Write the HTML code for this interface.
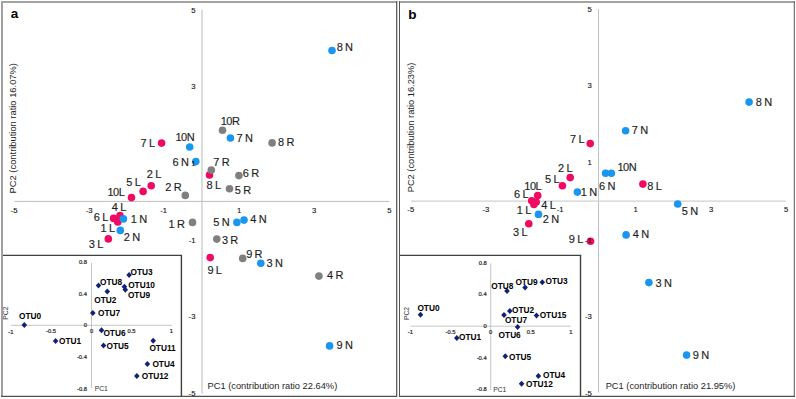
<!DOCTYPE html>
<html><head><meta charset="utf-8"><style>
html,body{margin:0;padding:0;background:#fff;}
body{width:796px;height:399px;overflow:hidden;}
svg{display:block;font-family:"Liberation Sans", sans-serif;}
</style></head><body>
<svg width="796" height="399" viewBox="0 0 796 399">
<rect x="0" y="0" width="796" height="399" fill="#fff"/>
<rect x="1" y="1" width="397" height="396" fill="#fff"/>
<line x1="1.00" y1="2.00" x2="397.80" y2="2.00" stroke="#858585" stroke-width="1.6"/>
<line x1="399.00" y1="2.00" x2="795.00" y2="2.00" stroke="#858585" stroke-width="1.6"/>
<line x1="396.50" y1="1.20" x2="396.50" y2="396.90" stroke="#5a5a5a" stroke-width="1"/>
<line x1="397.40" y1="1.20" x2="397.40" y2="396.90" stroke="#b8b8b8" stroke-width="0.8"/>
<line x1="794.30" y1="1.20" x2="794.30" y2="396.90" stroke="#555555" stroke-width="1"/>
<line x1="202.00" y1="9.80" x2="202.00" y2="393.70" stroke="#d0d0d0" stroke-width="1.5"/>
<line x1="14.40" y1="201.40" x2="389.60" y2="201.40" stroke="#bdbdbd" stroke-width="1"/>
<line x1="598.50" y1="9.00" x2="598.50" y2="392.70" stroke="#c2c2c2" stroke-width="1"/>
<line x1="411.00" y1="201.10" x2="785.80" y2="201.10" stroke="#d0d0d0" stroke-width="1.3"/>
<text x="10.66" y="17.87" style="font-size:13.5px;font-weight:bold" fill="#000">a</text>
<text x="408.36" y="18.83" style="font-size:13.5px;font-weight:bold" fill="#000">b</text>
<text transform="translate(14.00 128.10) rotate(-90)" x="-65.32" y="2.42" style="font-size:9.35px" fill="#1e1e1e">PC2 (contribution ratio 16.07%)</text>
<text x="207.53" y="388.81" style="font-size:9.3px" fill="#1e1e1e">PC1 (contribution ratio 22.64%)</text>
<text transform="translate(411.80 127.35) rotate(-90)" x="-64.97" y="2.41" style="font-size:9.3px" fill="#1e1e1e">PC2 (contribution ratio 16.23%)</text>
<text x="605.63" y="389.01" style="font-size:9.3px" fill="#1e1e1e">PC1 (contribution ratio 21.95%)</text>
<circle cx="161.60" cy="143.10" r="3.80" fill="#f00a62"/>
<circle cx="151.20" cy="185.80" r="3.80" fill="#f00a62"/>
<circle cx="143.10" cy="191.40" r="3.80" fill="#f00a62"/>
<circle cx="131.50" cy="197.60" r="3.80" fill="#f00a62"/>
<circle cx="209.50" cy="175.00" r="3.80" fill="#f00a62"/>
<circle cx="113.60" cy="218.40" r="3.80" fill="#f00a62"/>
<circle cx="120.00" cy="215.50" r="3.80" fill="#f00a62"/>
<circle cx="117.80" cy="221.90" r="3.80" fill="#f00a62"/>
<circle cx="108.30" cy="238.90" r="3.80" fill="#f00a62"/>
<circle cx="210.20" cy="257.60" r="3.80" fill="#f00a62"/>
<circle cx="332.00" cy="50.50" r="3.80" fill="#1896f0"/>
<circle cx="189.70" cy="147.00" r="3.80" fill="#1896f0"/>
<circle cx="230.40" cy="138.00" r="3.80" fill="#1896f0"/>
<circle cx="195.80" cy="161.60" r="3.80" fill="#1896f0"/>
<circle cx="123.40" cy="218.90" r="3.80" fill="#1896f0"/>
<circle cx="120.30" cy="230.40" r="3.80" fill="#1896f0"/>
<circle cx="236.90" cy="222.40" r="3.80" fill="#1896f0"/>
<circle cx="244.00" cy="220.10" r="3.80" fill="#1896f0"/>
<circle cx="260.80" cy="263.20" r="3.80" fill="#1896f0"/>
<circle cx="329.60" cy="345.90" r="3.80" fill="#1896f0"/>
<circle cx="222.50" cy="130.20" r="3.80" fill="#808080"/>
<circle cx="272.10" cy="142.90" r="3.80" fill="#808080"/>
<circle cx="211.30" cy="170.10" r="3.80" fill="#808080"/>
<circle cx="238.90" cy="175.60" r="3.80" fill="#808080"/>
<circle cx="185.30" cy="195.40" r="3.80" fill="#808080"/>
<circle cx="229.50" cy="188.70" r="3.80" fill="#808080"/>
<circle cx="192.50" cy="222.40" r="3.80" fill="#808080"/>
<circle cx="216.80" cy="239.10" r="3.80" fill="#808080"/>
<circle cx="242.70" cy="258.40" r="3.80" fill="#808080"/>
<circle cx="318.90" cy="276.10" r="3.80" fill="#808080"/>
<text x="336.65" y="50.69" style="font-size:11px;word-spacing:-0.7px;stroke:#1e1e1e;stroke-width:0.15px" fill="#1e1e1e">8 N</text>
<text x="175.44" y="140.59" style="font-size:11px;letter-spacing:-0.5px;stroke:#1e1e1e;stroke-width:0.15px" fill="#1e1e1e">10N</text>
<text x="236.41" y="142.18" style="font-size:11px;word-spacing:-0.7px;stroke:#1e1e1e;stroke-width:0.15px" fill="#1e1e1e">7 N</text>
<text x="172.46" y="166.19" style="font-size:11px;word-spacing:-0.7px;stroke:#1e1e1e;stroke-width:0.15px" fill="#1e1e1e">6 N</text>
<text x="130.87" y="222.63" style="font-size:11px;word-spacing:-0.7px;stroke:#1e1e1e;stroke-width:0.15px" fill="#1e1e1e">1 N</text>
<text x="123.71" y="240.79" style="font-size:11px;word-spacing:-0.7px;stroke:#1e1e1e;stroke-width:0.15px" fill="#1e1e1e">2 N</text>
<text x="213.37" y="226.38" style="font-size:11px;word-spacing:-0.7px;stroke:#1e1e1e;stroke-width:0.15px" fill="#1e1e1e">5 N</text>
<text x="250.36" y="223.18" style="font-size:11px;word-spacing:-0.7px;stroke:#1e1e1e;stroke-width:0.15px" fill="#1e1e1e">4 N</text>
<text x="266.48" y="267.49" style="font-size:11px;word-spacing:-0.7px;stroke:#1e1e1e;stroke-width:0.15px" fill="#1e1e1e">3 N</text>
<text x="336.48" y="349.09" style="font-size:11px;word-spacing:-0.7px;stroke:#1e1e1e;stroke-width:0.15px" fill="#1e1e1e">9 N</text>
<text x="140.50" y="147.08" style="font-size:11px;word-spacing:-0.7px;stroke:#1e1e1e;stroke-width:0.15px" fill="#1e1e1e">7 L</text>
<text x="146.71" y="178.24" style="font-size:11px;word-spacing:-0.7px;stroke:#1e1e1e;stroke-width:0.15px" fill="#1e1e1e">2 L</text>
<text x="126.32" y="185.78" style="font-size:11px;word-spacing:-0.7px;stroke:#1e1e1e;stroke-width:0.15px" fill="#1e1e1e">5 L</text>
<text x="107.49" y="195.59" style="font-size:11px;letter-spacing:-0.5px;stroke:#1e1e1e;stroke-width:0.15px" fill="#1e1e1e">10L</text>
<text x="206.55" y="189.09" style="font-size:11px;word-spacing:-0.7px;stroke:#1e1e1e;stroke-width:0.15px" fill="#1e1e1e">8 L</text>
<text x="93.71" y="220.84" style="font-size:11px;word-spacing:-0.7px;stroke:#1e1e1e;stroke-width:0.15px" fill="#1e1e1e">6 L</text>
<text x="111.71" y="211.48" style="font-size:11px;word-spacing:-0.7px;stroke:#1e1e1e;stroke-width:0.15px" fill="#1e1e1e">4 L</text>
<text x="100.62" y="232.08" style="font-size:11px;word-spacing:-0.7px;stroke:#1e1e1e;stroke-width:0.15px" fill="#1e1e1e">1 L</text>
<text x="88.73" y="247.74" style="font-size:11px;word-spacing:-0.7px;stroke:#1e1e1e;stroke-width:0.15px" fill="#1e1e1e">3 L</text>
<text x="207.38" y="274.29" style="font-size:11px;word-spacing:-0.7px;stroke:#1e1e1e;stroke-width:0.15px" fill="#1e1e1e">9 L</text>
<text x="220.75" y="125.29" style="font-size:11px;letter-spacing:-0.5px;stroke:#1e1e1e;stroke-width:0.15px" fill="#1e1e1e">10R</text>
<text x="277.96" y="146.09" style="font-size:11px;word-spacing:-0.7px;stroke:#1e1e1e;stroke-width:0.15px" fill="#1e1e1e">8 R</text>
<text x="213.26" y="166.08" style="font-size:11px;word-spacing:-0.7px;stroke:#1e1e1e;stroke-width:0.15px" fill="#1e1e1e">7 R</text>
<text x="242.77" y="176.99" style="font-size:11px;word-spacing:-0.7px;stroke:#1e1e1e;stroke-width:0.15px" fill="#1e1e1e">6 R</text>
<text x="165.27" y="190.69" style="font-size:11px;word-spacing:-0.7px;stroke:#1e1e1e;stroke-width:0.15px" fill="#1e1e1e">2 R</text>
<text x="234.73" y="193.63" style="font-size:11px;word-spacing:-0.7px;stroke:#1e1e1e;stroke-width:0.15px" fill="#1e1e1e">5 R</text>
<text x="168.48" y="227.68" style="font-size:11px;word-spacing:-0.7px;stroke:#1e1e1e;stroke-width:0.15px" fill="#1e1e1e">1 R</text>
<text x="221.89" y="243.89" style="font-size:11px;word-spacing:-0.7px;stroke:#1e1e1e;stroke-width:0.15px" fill="#1e1e1e">3 R</text>
<text x="246.14" y="257.69" style="font-size:11px;word-spacing:-0.7px;stroke:#1e1e1e;stroke-width:0.15px" fill="#1e1e1e">9 R</text>
<text x="327.07" y="279.43" style="font-size:11px;word-spacing:-0.7px;stroke:#1e1e1e;stroke-width:0.15px" fill="#1e1e1e">4 R</text>
<circle cx="590.20" cy="143.60" r="3.80" fill="#f00a62"/>
<circle cx="570.20" cy="177.60" r="3.80" fill="#f00a62"/>
<circle cx="562.40" cy="185.80" r="3.80" fill="#f00a62"/>
<circle cx="537.70" cy="195.50" r="3.80" fill="#f00a62"/>
<circle cx="531.70" cy="200.80" r="3.80" fill="#f00a62"/>
<circle cx="536.20" cy="202.00" r="3.80" fill="#f00a62"/>
<circle cx="533.90" cy="204.40" r="3.80" fill="#f00a62"/>
<circle cx="528.80" cy="223.80" r="3.80" fill="#f00a62"/>
<circle cx="642.90" cy="184.10" r="3.80" fill="#f00a62"/>
<circle cx="590.50" cy="241.20" r="3.80" fill="#f00a62"/>
<circle cx="749.10" cy="102.10" r="3.80" fill="#1896f0"/>
<circle cx="625.60" cy="130.70" r="3.80" fill="#1896f0"/>
<circle cx="605.60" cy="173.20" r="3.80" fill="#1896f0"/>
<circle cx="611.40" cy="173.20" r="3.80" fill="#1896f0"/>
<circle cx="577.40" cy="192.10" r="3.80" fill="#1896f0"/>
<circle cx="538.50" cy="214.40" r="3.80" fill="#1896f0"/>
<circle cx="677.70" cy="204.00" r="3.80" fill="#1896f0"/>
<circle cx="626.10" cy="234.90" r="3.80" fill="#1896f0"/>
<circle cx="648.90" cy="282.60" r="3.80" fill="#1896f0"/>
<circle cx="686.60" cy="355.10" r="3.80" fill="#1896f0"/>
<text x="755.75" y="106.04" style="font-size:11px;word-spacing:-0.7px;stroke:#1e1e1e;stroke-width:0.15px" fill="#1e1e1e">8 N</text>
<text x="631.71" y="134.13" style="font-size:11px;word-spacing:-0.7px;stroke:#1e1e1e;stroke-width:0.15px" fill="#1e1e1e">7 N</text>
<text x="599.01" y="189.54" style="font-size:11px;word-spacing:-0.7px;stroke:#1e1e1e;stroke-width:0.15px" fill="#1e1e1e">6 N</text>
<text x="617.44" y="171.04" style="font-size:11px;letter-spacing:-0.5px;stroke:#1e1e1e;stroke-width:0.15px" fill="#1e1e1e">10N</text>
<text x="580.72" y="195.83" style="font-size:11px;word-spacing:-0.7px;stroke:#1e1e1e;stroke-width:0.15px" fill="#1e1e1e">1 N</text>
<text x="542.81" y="223.39" style="font-size:11px;word-spacing:-0.7px;stroke:#1e1e1e;stroke-width:0.15px" fill="#1e1e1e">2 N</text>
<text x="681.67" y="214.78" style="font-size:11px;word-spacing:-0.7px;stroke:#1e1e1e;stroke-width:0.15px" fill="#1e1e1e">5 N</text>
<text x="632.86" y="238.13" style="font-size:11px;word-spacing:-0.7px;stroke:#1e1e1e;stroke-width:0.15px" fill="#1e1e1e">4 N</text>
<text x="655.58" y="286.54" style="font-size:11px;word-spacing:-0.7px;stroke:#1e1e1e;stroke-width:0.15px" fill="#1e1e1e">3 N</text>
<text x="692.68" y="359.04" style="font-size:11px;word-spacing:-0.7px;stroke:#1e1e1e;stroke-width:0.15px" fill="#1e1e1e">9 N</text>
<text x="570.05" y="143.38" style="font-size:11px;word-spacing:-0.7px;stroke:#1e1e1e;stroke-width:0.15px" fill="#1e1e1e">7 L</text>
<text x="558.01" y="172.04" style="font-size:11px;word-spacing:-0.7px;stroke:#1e1e1e;stroke-width:0.15px" fill="#1e1e1e">2 L</text>
<text x="544.92" y="182.73" style="font-size:11px;word-spacing:-0.7px;stroke:#1e1e1e;stroke-width:0.15px" fill="#1e1e1e">5 L</text>
<text x="524.34" y="189.59" style="font-size:11px;letter-spacing:-0.5px;stroke:#1e1e1e;stroke-width:0.15px" fill="#1e1e1e">10L</text>
<text x="514.01" y="198.34" style="font-size:11px;word-spacing:-0.7px;stroke:#1e1e1e;stroke-width:0.15px" fill="#1e1e1e">6 L</text>
<text x="541.26" y="209.28" style="font-size:11px;word-spacing:-0.7px;stroke:#1e1e1e;stroke-width:0.15px" fill="#1e1e1e">4 L</text>
<text x="516.77" y="214.23" style="font-size:11px;word-spacing:-0.7px;stroke:#1e1e1e;stroke-width:0.15px" fill="#1e1e1e">1 L</text>
<text x="513.08" y="236.29" style="font-size:11px;word-spacing:-0.7px;stroke:#1e1e1e;stroke-width:0.15px" fill="#1e1e1e">3 L</text>
<text x="647.35" y="190.19" style="font-size:11px;word-spacing:-0.7px;stroke:#1e1e1e;stroke-width:0.15px" fill="#1e1e1e">8 L</text>
<text x="568.78" y="242.59" style="font-size:11px;word-spacing:-0.7px;stroke:#1e1e1e;stroke-width:0.15px" fill="#1e1e1e">9 L</text>
<text x="10.77" y="212.51" style="font-size:7.7px;stroke:#111;stroke-width:0.12px" fill="#111">-5</text>
<text x="85.77" y="212.55" style="font-size:7.7px;stroke:#111;stroke-width:0.12px" fill="#111">-3</text>
<text x="160.19" y="212.55" style="font-size:7.7px;stroke:#111;stroke-width:0.12px" fill="#111">-1</text>
<text x="237.05" y="212.55" style="font-size:7.7px;stroke:#111;stroke-width:0.12px" fill="#111">1</text>
<text x="311.88" y="212.55" style="font-size:7.7px;stroke:#111;stroke-width:0.12px" fill="#111">3</text>
<text x="387.17" y="212.51" style="font-size:7.7px;stroke:#111;stroke-width:0.12px" fill="#111">5</text>
<text x="191.14" y="12.61" style="font-size:7.7px;stroke:#111;stroke-width:0.12px" fill="#111">5</text>
<text x="191.16" y="88.85" style="font-size:7.7px;stroke:#111;stroke-width:0.12px" fill="#111">3</text>
<text x="191.19" y="166.05" style="font-size:7.7px;stroke:#111;stroke-width:0.12px" fill="#111">1</text>
<text x="188.63" y="242.65" style="font-size:7.7px;stroke:#111;stroke-width:0.12px" fill="#111">-1</text>
<text x="188.59" y="318.65" style="font-size:7.7px;stroke:#111;stroke-width:0.12px" fill="#111">-3</text>
<text x="188.58" y="395.61" style="font-size:7.7px;stroke:#111;stroke-width:0.12px" fill="#111">-5</text>
<text x="407.37" y="211.71" style="font-size:7.7px;stroke:#111;stroke-width:0.12px" fill="#111">-5</text>
<text x="482.47" y="211.75" style="font-size:7.7px;stroke:#111;stroke-width:0.12px" fill="#111">-3</text>
<text x="556.79" y="211.75" style="font-size:7.7px;stroke:#111;stroke-width:0.12px" fill="#111">-1</text>
<text x="633.55" y="211.75" style="font-size:7.7px;stroke:#111;stroke-width:0.12px" fill="#111">1</text>
<text x="708.88" y="211.75" style="font-size:7.7px;stroke:#111;stroke-width:0.12px" fill="#111">3</text>
<text x="783.97" y="211.71" style="font-size:7.7px;stroke:#111;stroke-width:0.12px" fill="#111">5</text>
<text x="587.44" y="11.51" style="font-size:7.7px;stroke:#111;stroke-width:0.12px" fill="#111">5</text>
<text x="587.46" y="88.35" style="font-size:7.7px;stroke:#111;stroke-width:0.12px" fill="#111">3</text>
<text x="587.49" y="165.25" style="font-size:7.7px;stroke:#111;stroke-width:0.12px" fill="#111">1</text>
<text x="584.93" y="242.65" style="font-size:7.7px;stroke:#111;stroke-width:0.12px" fill="#111">-1</text>
<text x="584.89" y="318.85" style="font-size:7.7px;stroke:#111;stroke-width:0.12px" fill="#111">-3</text>
<text x="584.88" y="395.61" style="font-size:7.7px;stroke:#111;stroke-width:0.12px" fill="#111">-5</text>
<rect x="1.60" y="255.40" width="179.80" height="140.80" fill="#fff"/>
<line x1="1.60" y1="255.40" x2="182.10" y2="255.40" stroke="#404040" stroke-width="1.4"/>
<line x1="181.40" y1="255.40" x2="181.40" y2="396.20" stroke="#404040" stroke-width="1.4"/>
<line x1="91.50" y1="262.90" x2="91.50" y2="388.00" stroke="#c0c0c0" stroke-width="0.9"/>
<line x1="11.00" y1="325.30" x2="172.20" y2="325.30" stroke="#c0c0c0" stroke-width="0.9"/>
<text x="78.89" y="264.00" style="font-size:5.8px;stroke:#222;stroke-width:0.2px" fill="#222">0.8</text>
<text x="78.81" y="295.50" style="font-size:5.8px;stroke:#222;stroke-width:0.2px" fill="#222">0.4</text>
<text x="83.70" y="327.00" style="font-size:5.8px;stroke:#222;stroke-width:0.2px" fill="#222">0</text>
<text x="76.88" y="358.50" style="font-size:5.8px;stroke:#222;stroke-width:0.2px" fill="#222">-0.4</text>
<text x="76.96" y="390.50" style="font-size:5.8px;stroke:#222;stroke-width:0.2px" fill="#222">-0.8</text>
<text x="8.23" y="333.50" style="font-size:5.8px;stroke:#222;stroke-width:0.2px" fill="#222">-1</text>
<text x="46.00" y="333.10" style="font-size:5.8px;stroke:#222;stroke-width:0.2px" fill="#222">-0.5</text>
<text x="89.89" y="333.00" style="font-size:5.8px;stroke:#222;stroke-width:0.2px" fill="#222">0</text>
<text x="127.48" y="333.10" style="font-size:5.8px;stroke:#222;stroke-width:0.2px" fill="#222">0.5</text>
<text x="169.81" y="333.00" style="font-size:5.8px;stroke:#222;stroke-width:0.2px" fill="#222">1</text>
<text transform="translate(5.80 313.00) rotate(-90)" x="-6.72" y="2.34" style="font-size:6.8px" fill="#333">PC2</text>
<text x="94.67" y="391.14" style="font-size:6.8px" fill="#333">PC1</text>
<path d="M24.30 322.10L27.10 325.10L24.30 328.10L21.50 325.10Z" fill="#0c2377"/>
<path d="M55.60 338.10L58.40 341.10L55.60 344.10L52.80 341.10Z" fill="#0c2377"/>
<path d="M129.10 272.00L131.90 275.00L129.10 278.00L126.30 275.00Z" fill="#0c2377"/>
<path d="M98.50 282.60L101.30 285.60L98.50 288.60L95.70 285.60Z" fill="#0c2377"/>
<path d="M107.30 288.60L110.10 291.60L107.30 294.60L104.50 291.60Z" fill="#0c2377"/>
<path d="M124.40 283.80L127.20 286.80L124.40 289.80L121.60 286.80Z" fill="#0c2377"/>
<path d="M125.30 286.80L128.10 289.80L125.30 292.80L122.50 289.80Z" fill="#0c2377"/>
<path d="M92.80 310.00L95.60 313.00L92.80 316.00L90.00 313.00Z" fill="#0c2377"/>
<path d="M101.50 327.20L104.30 330.20L101.50 333.20L98.70 330.20Z" fill="#0c2377"/>
<path d="M103.50 342.60L106.30 345.60L103.50 348.60L100.70 345.60Z" fill="#0c2377"/>
<path d="M153.20 337.80L156.00 340.80L153.20 343.80L150.40 340.80Z" fill="#0c2377"/>
<path d="M147.40 360.90L150.20 363.90L147.40 366.90L144.60 363.90Z" fill="#0c2377"/>
<path d="M136.80 373.00L139.60 376.00L136.80 379.00L134.00 376.00Z" fill="#0c2377"/>
<text x="19.03" y="318.86" style="font-size:8.3px;font-weight:bold" fill="#000">OTU0</text>
<text x="58.93" y="344.11" style="font-size:8.3px;font-weight:bold" fill="#000">OTU1</text>
<text x="130.51" y="274.70" style="font-size:8.3px;font-weight:bold" fill="#000">OTU3</text>
<text x="100.04" y="285.26" style="font-size:8.3px;font-weight:bold" fill="#000">OTU8</text>
<text x="94.23" y="302.96" style="font-size:8.3px;font-weight:bold" fill="#000">OTU2</text>
<text x="128.17" y="288.46" style="font-size:8.3px;font-weight:bold" fill="#000">OTU10</text>
<text x="127.92" y="298.41" style="font-size:8.3px;font-weight:bold" fill="#000">OTU9</text>
<text x="97.99" y="315.66" style="font-size:8.3px;font-weight:bold" fill="#000">OTU7</text>
<text x="103.41" y="336.46" style="font-size:8.3px;font-weight:bold" fill="#000">OTU6</text>
<text x="106.53" y="348.71" style="font-size:8.3px;font-weight:bold" fill="#000">OTU5</text>
<text x="149.42" y="350.96" style="font-size:8.3px;font-weight:bold" fill="#000">OTU11</text>
<text x="152.38" y="367.26" style="font-size:8.3px;font-weight:bold" fill="#000">OTU4</text>
<text x="141.72" y="379.26" style="font-size:8.3px;font-weight:bold" fill="#000">OTU12</text>
<rect x="399.40" y="255.40" width="181.10" height="140.80" fill="#fff"/>
<line x1="399.40" y1="255.40" x2="581.20" y2="255.40" stroke="#404040" stroke-width="1.4"/>
<line x1="580.50" y1="255.40" x2="580.50" y2="396.20" stroke="#404040" stroke-width="1.4"/>
<line x1="490.70" y1="263.40" x2="490.70" y2="390.30" stroke="#c0c0c0" stroke-width="0.9"/>
<line x1="410.70" y1="326.20" x2="570.70" y2="326.20" stroke="#c0c0c0" stroke-width="0.9"/>
<text x="478.69" y="264.90" style="font-size:5.8px;stroke:#222;stroke-width:0.2px" fill="#222">0.8</text>
<text x="478.61" y="296.00" style="font-size:5.8px;stroke:#222;stroke-width:0.2px" fill="#222">0.4</text>
<text x="483.50" y="328.00" style="font-size:5.8px;stroke:#222;stroke-width:0.2px" fill="#222">0</text>
<text x="476.68" y="359.70" style="font-size:5.8px;stroke:#222;stroke-width:0.2px" fill="#222">-0.4</text>
<text x="476.76" y="391.00" style="font-size:5.8px;stroke:#222;stroke-width:0.2px" fill="#222">-0.8</text>
<text x="407.83" y="334.30" style="font-size:5.8px;stroke:#222;stroke-width:0.2px" fill="#222">-1</text>
<text x="445.60" y="334.00" style="font-size:5.8px;stroke:#222;stroke-width:0.2px" fill="#222">-0.5</text>
<text x="488.99" y="334.10" style="font-size:5.8px;stroke:#222;stroke-width:0.2px" fill="#222">0</text>
<text x="526.68" y="334.00" style="font-size:5.8px;stroke:#222;stroke-width:0.2px" fill="#222">0.5</text>
<text x="569.31" y="334.00" style="font-size:5.8px;stroke:#222;stroke-width:0.2px" fill="#222">1</text>
<text transform="translate(406.20 313.40) rotate(-90)" x="-6.72" y="2.34" style="font-size:6.8px" fill="#333">PC2</text>
<text x="493.17" y="392.14" style="font-size:6.8px" fill="#333">PC1</text>
<path d="M420.50 311.70L423.30 314.70L420.50 317.70L417.70 314.70Z" fill="#0c2377"/>
<path d="M456.80 334.90L459.60 337.90L456.80 340.90L454.00 337.90Z" fill="#0c2377"/>
<path d="M507.00 288.00L509.80 291.00L507.00 294.00L504.20 291.00Z" fill="#0c2377"/>
<path d="M525.10 284.50L527.90 287.50L525.10 290.50L522.30 287.50Z" fill="#0c2377"/>
<path d="M542.30 279.20L545.10 282.20L542.30 285.20L539.50 282.20Z" fill="#0c2377"/>
<path d="M509.80 308.00L512.60 311.00L509.80 314.00L507.00 311.00Z" fill="#0c2377"/>
<path d="M504.00 312.00L506.80 315.00L504.00 318.00L501.20 315.00Z" fill="#0c2377"/>
<path d="M536.50 312.50L539.30 315.50L536.50 318.50L533.70 315.50Z" fill="#0c2377"/>
<path d="M517.60 324.00L520.40 327.00L517.60 330.00L514.80 327.00Z" fill="#0c2377"/>
<path d="M505.30 353.20L508.10 356.20L505.30 359.20L502.50 356.20Z" fill="#0c2377"/>
<path d="M538.40 373.00L541.20 376.00L538.40 379.00L535.60 376.00Z" fill="#0c2377"/>
<path d="M521.60 380.80L524.40 383.80L521.60 386.80L518.80 383.80Z" fill="#0c2377"/>
<text x="417.38" y="311.01" style="font-size:8.3px;font-weight:bold" fill="#000">OTU0</text>
<text x="459.08" y="340.21" style="font-size:8.3px;font-weight:bold" fill="#000">OTU1</text>
<text x="491.34" y="288.91" style="font-size:8.3px;font-weight:bold" fill="#000">OTU8</text>
<text x="515.42" y="284.86" style="font-size:8.3px;font-weight:bold" fill="#000">OTU9</text>
<text x="545.56" y="284.20" style="font-size:8.3px;font-weight:bold" fill="#000">OTU3</text>
<text x="512.08" y="313.21" style="font-size:8.3px;font-weight:bold" fill="#000">OTU2</text>
<text x="504.89" y="322.71" style="font-size:8.3px;font-weight:bold" fill="#000">OTU7</text>
<text x="539.67" y="318.06" style="font-size:8.3px;font-weight:bold" fill="#000">OTU15</text>
<text x="498.61" y="338.11" style="font-size:8.3px;font-weight:bold" fill="#000">OTU6</text>
<text x="508.98" y="359.51" style="font-size:8.3px;font-weight:bold" fill="#000">OTU5</text>
<text x="543.08" y="378.01" style="font-size:8.3px;font-weight:bold" fill="#000">OTU4</text>
<text x="526.02" y="387.21" style="font-size:8.3px;font-weight:bold" fill="#000">OTU12</text>
<line x1="2.00" y1="1.20" x2="2.00" y2="396.90" stroke="#a0a0a0" stroke-width="2"/>
<line x1="399.50" y1="1.20" x2="399.50" y2="396.90" stroke="#555555" stroke-width="1"/>
<line x1="1.00" y1="396.30" x2="397.00" y2="396.30" stroke="#505050" stroke-width="1.2"/>
<line x1="399.00" y1="396.30" x2="794.80" y2="396.30" stroke="#505050" stroke-width="1.2"/>
</svg>
</body></html>
